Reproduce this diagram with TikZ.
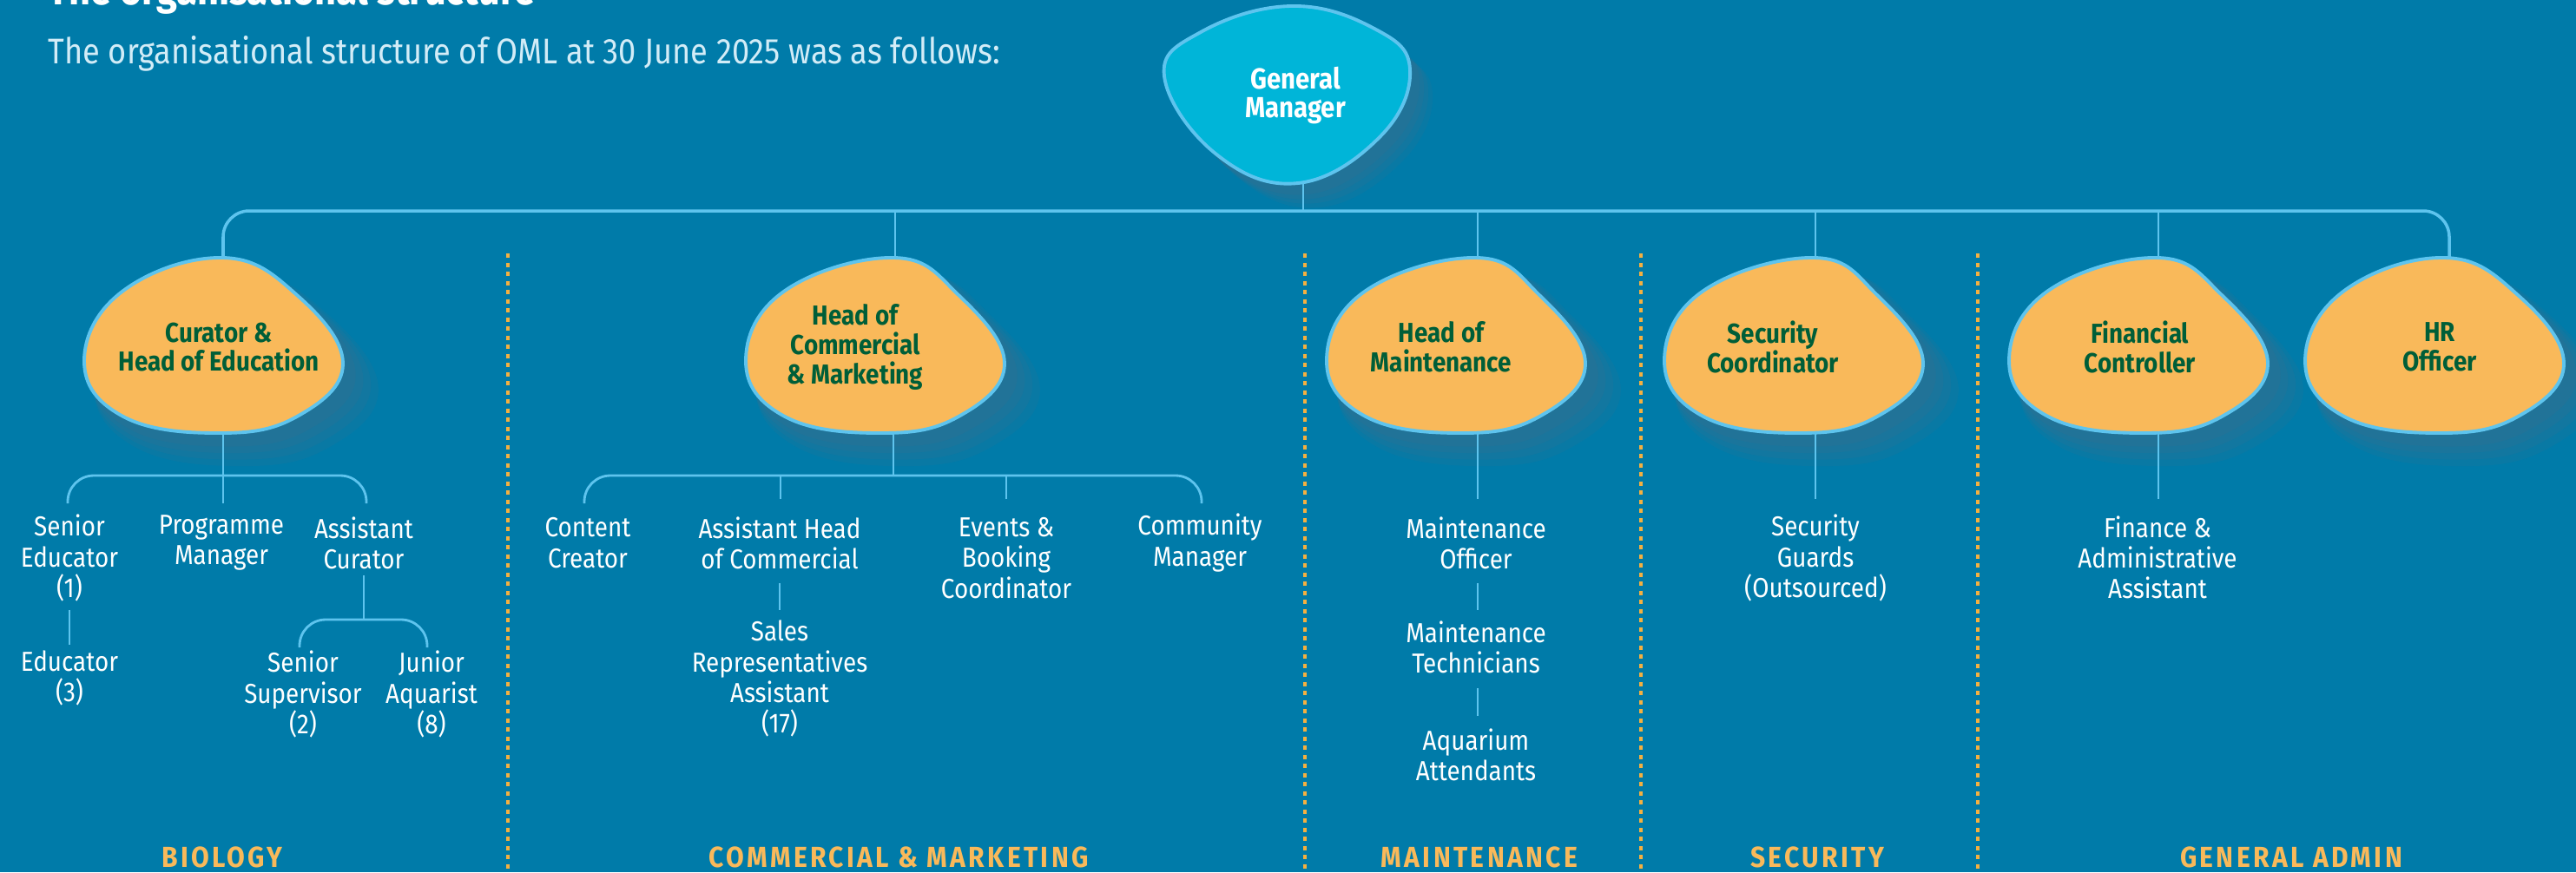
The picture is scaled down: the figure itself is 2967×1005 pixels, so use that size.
\documentclass[tikz,border=0pt]{standalone}
\usepackage{fontspec}
\setmainfont{Fira Sans}[FakeStretch=0.88]
\newfontfamily\catfont{Fira Sans}[FakeStretch=0.9,LetterSpace=10]
\definecolor{bg}{RGB}{0,123,169}
\definecolor{orng}{RGB}{249,185,90}
\definecolor{gmfill}{RGB}{0,181,216}
\definecolor{edge}{RGB}{94,196,238}
\definecolor{dgreen}{RGB}{0,94,56}
\definecolor{dashc}{RGB}{245,176,64}
\definecolor{subc}{RGB}{210,236,247}
\definecolor{shcol}{RGB}{110,105,120}
\tikzset{
  conn/.style={draw=edge, line width=0.8pt},
  divline/.style={draw=dashc, line width=0.9pt, dash pattern=on 0.05cm off 0.055cm},
  ctext/.style={align=center, text=white, inner sep=0pt, font=\fontsize{9}{10}\selectfont},
  btext/.style={align=center, text=dgreen, inner sep=0pt, font=\bfseries\fontsize{9}{9.6}\selectfont},
  gmtext/.style={align=center, text=white, inner sep=0pt, font=\bfseries\fontsize{9.5}{9.5}\selectfont},
  cat/.style={text=orng, inner sep=0pt, font=\catfont\bfseries\fontsize{9.5}{10}\selectfont},
}
\newcommand\blobpath[1]{plot[smooth cycle, tension=0.7] coordinates {(#1,-101) (-104,-63) (-149,18) (-104,82) (6,101) (96,82) (149,21) (96,-58)}}
\newcommand\gmpath{plot[smooth cycle, tension=0.7] coordinates {(1487,7) (1383,37) (1341,88) (1400,177) (1495,211) (1590,157) (1624,80) (1583,33)}}
\newcommand\oblob[3]{%
  \begin{scope}[shift={(#1,#2)}]
    \foreach \k in {1,...,4}{\fill[shcol,opacity=0.09,shift={(6+5*\k,8+5*\k)},scale=1+0.025*\k] \blobpath{#3};}
    \draw[draw=edge,line width=1.1pt,fill=orng] \blobpath{#3};
  \end{scope}}
\begin{document}
\begin{tikzpicture}[x=0.01cm,y=-0.01cm]
\fill[bg] (0,0) rectangle (2967,1005);
\useasboundingbox (0,0) rectangle (2967,1005);
\begin{scope}
\clip (0,0) rectangle (2967,1005);
\node[anchor=base west, text=white, inner sep=0pt, font=\bfseries\fontsize{14}{14}\selectfont] (title) at (55,5) {The organisational structure};
\end{scope}
\node[anchor=base west, text=subc, inner sep=0pt, font=\fontsize{11.7}{13}\selectfont] (subt) at (55,73) {The organisational structure of OML at 30 June 2025 was as follows:};

% dividers
\foreach \dx/\nm in {585/d1,1503/d2,1890/d3,2278/d4}{
  \coordinate (\nm t) at (\dx,292);
  \coordinate (\nm b) at (\dx,1005);
  \draw[divline] (\nm t) -- (\nm b);
}

% general manager
\foreach \k in {1,...,4}{\fill[shcol,opacity=0.09,shift={(6+5*\k,8+5*\k)}] \gmpath;}
\draw[draw=edge,line width=1.1pt,fill=gmfill] \gmpath;
\node[gmtext] (gm) at (1492,110) {General\\Manager};

% second level blobs
\oblob{246}{398}{11}
\oblob{1008}{398}{22}
\oblob{1677}{398}{24}
\oblob{2066}{398}{24}
\oblob{2463}{398}{22}
\oblob{2804}{398}{12}
\node[btext] (cur) at (252,400) {Curator \&\\Head of Education};
\node[btext] (hcm) at (985,400) {Head of\\Commercial\\\& Marketing};
\node[btext] (hm) at (1660,400) {Head of\\Maintenance};
\node[btext] (sc) at (2042,400) {Security\\Coordinator};
\node[btext] (fc) at (2465,400) {Financial\\Controller};
\node[btext] (hr) at (2810,400) {HR\\Officer};

% top bus
\coordinate (gmB) at (1501,211);
\coordinate (gmJ) at (1501,243);
\coordinate (curT) at (257,297);
\coordinate (hcmT) at (1031,297);
\coordinate (hmT) at (1702,297);
\coordinate (scT) at (2091,297);
\coordinate (fcT) at (2486,297);
\coordinate (hrT) at (2821,297);
\draw[conn, line width=1pt, rounded corners=0.3cm] (curT) |- (gmJ) -| (hrT);
\draw[conn] (gmB) -- (gmJ);
\foreach \t in {hcmT,hmT,scT,fcT}{\draw[conn] (\t) -- (\t |- gmJ);}

% biology subtree
\coordinate (curB) at (257,499);
\coordinate (curJ) at (257,548);
\coordinate (seT) at (78,580);
\coordinate (pmT) at (257,580);
\coordinate (acT) at (422,580);
\draw[conn, rounded corners=0.3cm] (seT) |- (curJ) -| (acT);
\draw[conn] (curB) -- (pmT);
\node[ctext] (se) at (80,643) {Senior\\Educator\\(1)};
\node[ctext] (pm) at (255,625.5) {Programme\\Manager};
\node[ctext] (ac) at (419,625.5) {Assistant\\Curator};
\node[ctext] (ed) at (80,781.5) {Educator\\(3)};
\coordinate (seB) at (80,703);
\coordinate (edT) at (80,743);
\draw[conn] (seB) -- (edT);
\coordinate (acB) at (419,663);
\coordinate (acJ) at (419,714);
\coordinate (ssT) at (345,746);
\coordinate (jaT) at (492,746);
\draw[conn] (acB) -- (acJ);
\draw[conn, rounded corners=0.3cm] (ssT) |- (acJ) -| (jaT);
\node[ctext] (ss) at (349,800) {Senior\\Supervisor\\(2)};
\node[ctext] (ja) at (497,800) {Junior\\Aquarist\\(8)};

% commercial subtree
\coordinate (hcmB) at (1029,499);
\coordinate (hcmJ) at (1029,548);
\coordinate (ccT) at (673,580);
\coordinate (ahT) at (899,575);
\coordinate (ebT) at (1159,575);
\coordinate (cmT) at (1384,580);
\draw[conn, rounded corners=0.3cm] (ccT) |- (hcmJ) -| (cmT);
\draw[conn] (hcmB) -- (hcmJ);
\draw[conn] (ahT) -- (ahT |- hcmJ);
\draw[conn] (ebT) -- (ebT |- hcmJ);
\node[ctext] (cc) at (677,625.5) {Content\\Creator};
\node[ctext] (ah) at (898,625.5) {Assistant Head\\of Commercial};
\node[ctext] (eb) at (1159,643) {Events \&\\Booking\\Coordinator};
\node[ctext] (cm) at (1382,625.5) {Community\\Manager};
\coordinate (ahB) at (898,672);
\coordinate (srT) at (898,703);
\draw[conn] (ahB) -- (srT);
\node[ctext] (sr) at (898,782) {Sales\\Representatives\\Assistant\\(17)};

% maintenance subtree
\coordinate (hmB) at (1702,499);
\coordinate (moT) at (1702,575);
\draw[conn] (hmB) -- (moT);
\node[ctext] (mo) at (1700,625.5) {Maintenance\\Officer};
\coordinate (moB) at (1702,672);
\coordinate (mtT) at (1702,703);
\draw[conn] (moB) -- (mtT);
\node[ctext] (mt) at (1700,745.5) {Maintenance\\Technicians};
\coordinate (mtB) at (1702,793);
\coordinate (aaT) at (1702,825);
\draw[conn] (mtB) -- (aaT);
\node[ctext] (aa) at (1700,870) {Aquarium\\Attendants};

% security subtree
\coordinate (scB) at (2091,499);
\coordinate (sgT) at (2091,575);
\draw[conn] (scB) -- (sgT);
\node[ctext] (sg) at (2091,643) {Security\\Guards\\(Outsourced)};

% finance subtree
\coordinate (fcB) at (2486,499);
\coordinate (faT) at (2486,575);
\draw[conn] (fcB) -- (faT);
\node[ctext] (fa) at (2485,642.5) {Finance \&\\Administrative\\Assistant};

% category labels
\node[cat] (lbio) at (256,988) {BIOLOGY};
\node[cat] (lcom) at (1035,988) {COMMERCIAL \& MARKETING};
\node[cat] (lmai) at (1704,988) {MAINTENANCE};
\node[cat] (lsec) at (2093,988) {SECURITY};
\node[cat] (lgen) at (2639,988) {GENERAL ADMIN};
\end{tikzpicture}
\end{document}
